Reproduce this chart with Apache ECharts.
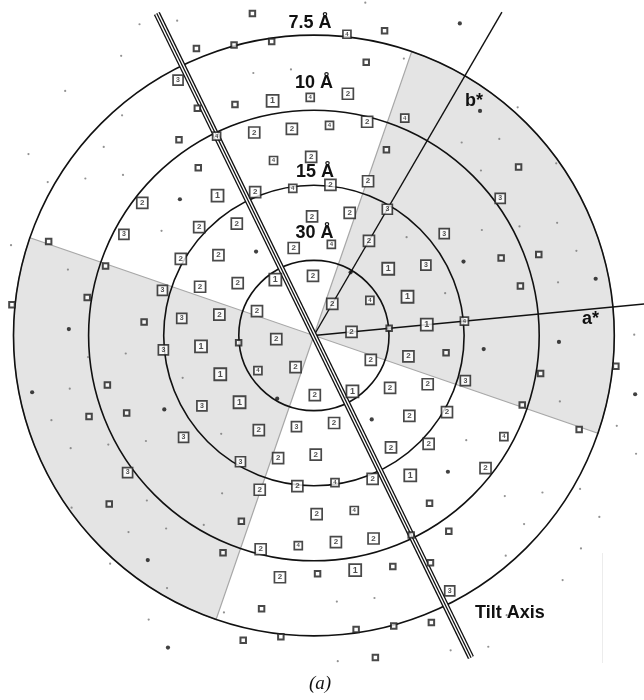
<!DOCTYPE html>
<html><head><meta charset="utf-8">
<script src="https://cdn.jsdelivr.net/npm/echarts@6/dist/echarts.min.js"></script>
<style>html,body{margin:0;padding:0;background:#fff}#c{width:644px;height:700px}</style>
</head><body><div id="c"></div>
<script>
// ---- data ----
const ringResolutions = [30, 15, 10, 7.5];          // Å
const ringLabels = ['30 Å', '15 Å', '10 Å', '7.5 Å'];
const cellA = 59.6, cellB = 61.7;                   // Å  (|a*| = 1/a, |b*| = 1/b)
const aStarAngle = 5.46, bStarAngle = 59.82;         // deg
const tiltAxisAngle = 116;                           // deg
const wedgeHalfWidth = 45;                           // deg, shaded wedge ⟂ tilt axis
// reflections [h, k] grouped by IQ
const spotsIQ1 = [[-5,8],[-5,5],[-2,2],[-3,0],[1,2],[2,1],[3,0],[-2,-1],[-1,-2],[2,-2],[5,-5],[5,-8]];
const spotsIQ2 = [[-3,8],[-5,7],[-4,7],[-2,7],[-3,6],[-7,5],[-4,5],[-2,5],[-1,5],[-5,4],[-4,4],[-2,4],[-1,4],[-5,3],[-4,3],[-2,3],[0,3],[-4,2],[-3,2],[-1,2],[-3,1],[-2,1],[0,1],[-1,0],[1,0],[0,-1],[2,-1],[3,-1],[1,-2],[3,-2],[4,-2],[0,-3],[2,-3],[4,-3],[5,-3],[1,-4],[2,-4],[4,-4],[5,-4],[1,-5],[2,-5],[4,-5],[7,-5],[3,-6],[2,-7],[4,-7],[5,-7],[3,-8]];
const spotsIQ3 = [[-8,9],[-7,4],[-5,2],[-4,1],[-4,0],[0,4],[2,2],[2,3],[3,4],[5,-2],[-2,-2],[1,-3],[-2,-3],[0,-4],[-3,-4],[8,-9]];
const spotsIQ4 = [[-4,10],[-4,8],[-6,7],[-3,7],[-1,7],[-4,6],[-3,5],[-1,3],[1,1],[4,0],[-1,-1],[7,-4],[3,-5],[4,-6],[3,-7]];
const spotsIQ5 = [[-7,11],[-8,10],[-7,10],[-6,10],[-3,10],[-3,9],[-7,8],[-6,8],[-7,7],[-6,6],[-1,6],[3,5],[4,2],[5,2],[5,1],[2,0],[4,-1],[-2,0],[-7,3],[-7,2],[-9,4],[-9,2],[-5,1],[-5,-1],[-5,-2],[-4,-2],[-3,-5],[1,-6],[1,-7],[3,-9],[3,-10],[4,-10],[4,-8],[7,-2],[9,-2],[7,-3],[9,-4],[6,-6],[6,-7],[7,-7],[7,-8],[6,-8],[8,-10],[7,-10],[6,-10],[7,-11]];
const spotsIQ6 = [[-1,10],[1,7],[-6,5],[-3,3],[0,2],[3,2],[7,1],[7,-1],[5,-1],[-7,1],[-7,-1],[-3,-2],[0,-2],[3,-3],[6,-5],[10,-3],[-1,-7],[1,-10]];
const spotsIQ7 = [[-4,11],[-2,9],[2,7],[1,6],[2,6],[2,5],[4,5],[1,3],[3,3],[4,3],[5,3],[6,2],[3,1],[6,1],[9,-1],[-6,4],[-8,3],[-10,4],[-10,6],[-11,7],[-11,9],[-10,10],[-10,11],[-9,11],[-9,8],[-9,7],[-9,6],[-8,6],[-6,9],[-5,9],[-5,0],[-6,0],[-3,-1],[-6,-1],[-6,-2],[-1,-3],[-3,-3],[-4,-3],[-5,-3],[-2,-5],[-4,-5],[0,-5],[0,-6],[-1,-6],[-2,-6],[-2,-7],[0,-8],[0,-9],[2,-9],[8,-3],[10,-4],[6,-4],[11,-5],[8,-6],[9,-6],[10,-6],[9,-7],[11,-7],[9,-8],[11,-8],[11,-9],[5,-9],[6,-9],[10,-10],[6,-11],[9,-11],[10,-11]];

// ---- layout (units: 1e-3 Å^-1) ----
const PX = 2.253, CX = 313.9, CY = 335.5, W = 644, H = 700;
const d2r = Math.PI / 180;
const aS = 1000 / cellA, bS = 1000 / cellB;
function recip(h, k) {
  return [h * aS * Math.cos(aStarAngle * d2r) + k * bS * Math.cos(bStarAngle * d2r),
          h * aS * Math.sin(aStarAngle * d2r) + k * bS * Math.sin(bStarAngle * d2r)];
}
function polar(len, ang) { return [len * Math.cos(ang * d2r), len * Math.sin(ang * d2r)]; }
const outerR = 1000 / ringResolutions[ringResolutions.length - 1];

const chart = echarts.init(document.getElementById('c'), null, {renderer: 'canvas'});
const FONT = '"Liberation Sans", Arial, Helvetica, sans-serif';

function boxSeries(data, size, text, fontSize, bw) {
  return {
    type: 'scatter', data: data.map(([h, k]) => recip(h, k)), symbol: 'rect', symbolSize: size,
    itemStyle: {color: '#ffffff', borderColor: '#1c1c1c', borderWidth: bw},
    label: text ? {show: true, formatter: text, position: 'inside', fontSize: fontSize, fontFamily: FONT,
                   fontWeight: 'bold', color: '#222'} : {show: false},
    z: 10, silent: true, animation: false
  };
}
function dotSeries(data, size, color) {
  return {type: 'scatter', data: data.map(([h, k]) => recip(h, k)), symbol: 'circle', symbolSize: size,
          itemStyle: {color: color}, z: 9, silent: true, animation: false};
}
function lineSeries(pts, color, width, z) {
  return {type: 'line', data: pts, symbol: 'none', lineStyle: {color: color, width: width},
          z: z, silent: true, animation: false, clip: false};
}
const tiltEnd = polar(159, tiltAxisAngle);
const tiltPts = [[-tiltEnd[0], -tiltEnd[1]], tiltEnd];
const ringLabelOffsets = [[0.5, -27], [1, -13.5], [0, -27.3], [-4, -12]];

const option = {
  animation: false,
  backgroundColor: '#ffffff',
  grid: {left: 0, top: 0, width: W, height: H},
  xAxis: {type: 'value', min: -CX / PX, max: (W - CX) / PX, show: false},
  yAxis: {type: 'value', min: -(H - CY) / PX, max: CY / PX, show: false},
  series: [
    { // shaded wedges perpendicular to the tilt axis
      type: 'custom', z: 1, silent: true,
      data: [[0, 0, tiltAxisAngle - 90], [0, 0, tiltAxisAngle + 90]],
      renderItem: function (params, api) {
        const c = api.coord([0, 0]);
        const r = api.size([outerR, 0])[0];
        const mid = api.value(2);
        return {type: 'sector',
          shape: {cx: c[0], cy: c[1], r0: 0, r: r,
                  startAngle: -(mid + wedgeHalfWidth) * d2r, endAngle: -(mid - wedgeHalfWidth) * d2r, clockwise: true},
          style: {fill: '#e4e4e4', stroke: '#a8a8a8', lineWidth: 1.2}};
      }
    },
    { // resolution rings
      type: 'custom', z: 3, silent: true,
      data: ringResolutions.map(d => [0, 0, 1000 / d]),
      renderItem: function (params, api) {
        const c = api.coord([0, 0]);
        const r = api.size([api.value(2), 0])[0];
        return {type: 'circle', shape: {cx: c[0], cy: c[1], r: r},
                style: {fill: 'none', stroke: '#111', lineWidth: 1.6}};
      }
    },
    { // ring labels
      type: 'custom', z: 20, silent: true,
      data: ringResolutions.map(d => [0, 0, 1000 / d]),
      renderItem: function (params, api) {
        const p = api.coord([0, api.value(2)]);
        const o = ringLabelOffsets[params.dataIndex];
        return {type: 'text', x: p[0] + o[0], y: p[1] + o[1],
                style: {text: ringLabels[params.dataIndex], font: 'bold 18px ' + FONT, fill: '#111',
                        align: 'center', verticalAlign: 'middle'}};
      }
    },
    lineSeries([[0, 0], polar(151, aStarAngle)], '#111', 1.4, 4),
    lineSeries([[0, 0], polar(166, bStarAngle)], '#111', 1.4, 4),
    lineSeries(tiltPts, '#111', 6.6, 5),
    lineSeries(tiltPts, '#ffffff', 4.0, 6),
    lineSeries(tiltPts, '#111', 1.3, 7),
    dotSeries(spotsIQ7, 2.2, '#777777'),
    dotSeries(spotsIQ6, 4.2, '#111111'),
    boxSeries(spotsIQ5, 5.5, null, 0, 2),
    boxSeries(spotsIQ4, 8, '4', 6, 1.7),
    boxSeries(spotsIQ3, 10, '3', 7, 1.7),
    boxSeries(spotsIQ2, 11, '2', 8, 1.7),
    boxSeries(spotsIQ1, 12, '1', 9, 1.8)
  ],
  graphic: [
    {type: 'text', left: 582, top: 310, style: {text: 'a*', font: 'bold 18px ' + FONT, fill: '#111'}, z: 30},
    {type: 'text', left: 465, top: 92, style: {text: 'b*', font: 'bold 18px ' + FONT, fill: '#111'}, z: 30},
    {type: 'text', left: 475, top: 604, style: {text: 'Tilt Axis', font: 'bold 18px ' + FONT, fill: '#111'}, z: 30},
    {type: 'text', left: 309, top: 674, style: {text: '(a)', font: 'italic 19px "Liberation Serif", "Times New Roman", serif', fill: '#111'}, z: 30},
    {type: 'line', shape: {x1: 602.5, y1: 553, x2: 602.5, y2: 663}, style: {stroke: '#ececec', lineWidth: 1}, z: 30}
  ]
};
chart.setOption(option);
</script>
</body></html>
